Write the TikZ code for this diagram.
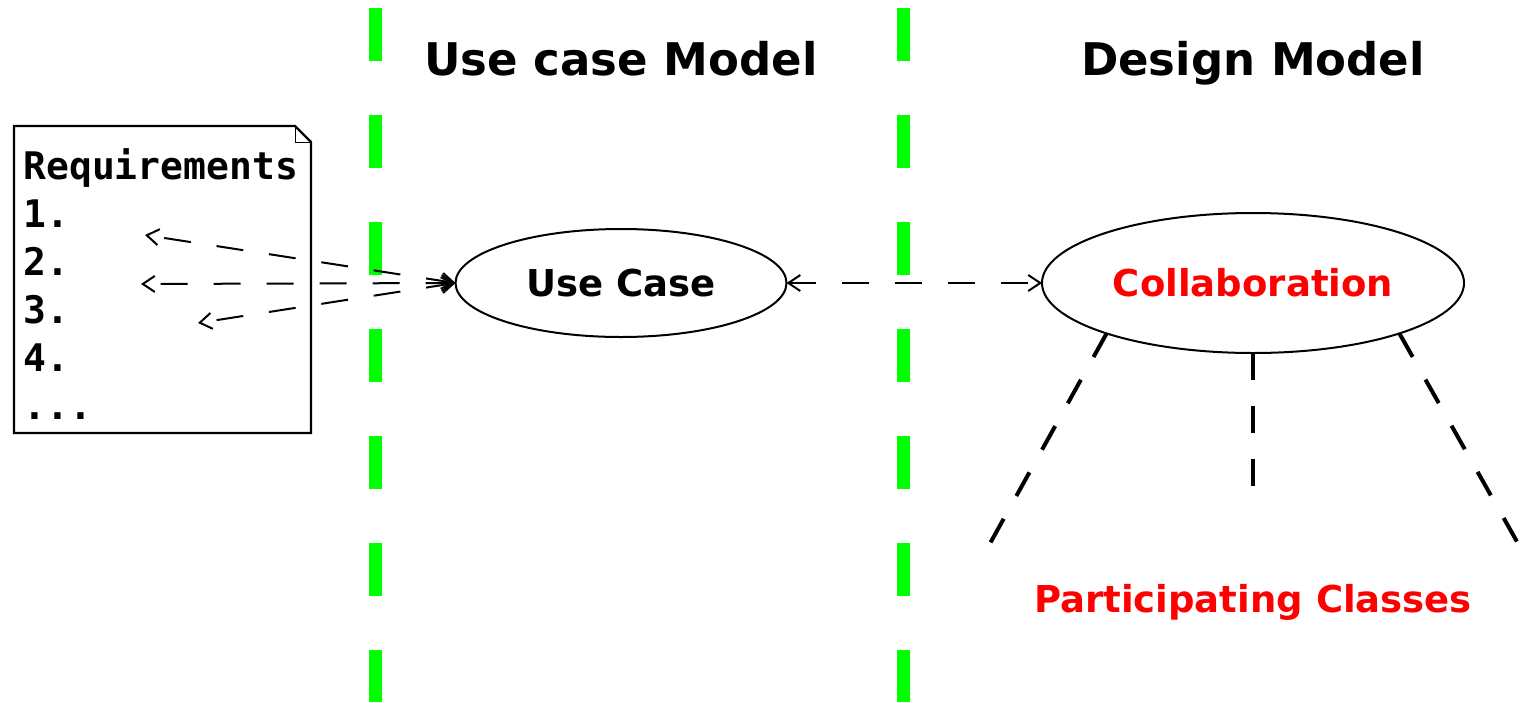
\documentclass[tikz,border=0pt]{standalone}
\usepackage{fontspec}
\setmainfont{DejaVu Sans}
\newfontfamily\reqfont{DejaVu Sans Mono}
\usepackage{tikz}
\usetikzlibrary{shapes}
\usetikzlibrary{arrows.meta}
\usetikzlibrary{positioning}
\definecolor{lanegreen}{RGB}{0,255,0}
\definecolor{collabred}{RGB}{255,0,0}

\begin{document}
\begin{tikzpicture}[
            x=0.5pt, y=-0.5pt,
            >={Straight Barb[length=6pt,width=8pt]},
            title/.style={font=\fontsize{22.5}{27}\selectfont\bfseries, anchor=base},
            usecase/.style={ellipse, draw=black, line width=1pt, inner sep=0pt, outer sep=0pt, font=\fontsize{18.5}{22}\selectfont\bfseries},
            lane/.style={draw=lanegreen, line width=6.5pt, dash pattern=on 26.5pt off 27pt},
            flow/.style={draw=black, line width=1pt, dash pattern=on 13.5pt off 13pt, <->},
            branch/.style={draw=black, line width=2pt, dash pattern=on 13.5pt off 13pt}
        ]
            \useasboundingbox (0,0) rectangle (1530,702);
            % lane separators
            \foreach \lx in {375,903}
                \path[lane] (\lx,8) -- (\lx,702);

            \node[title] (ucmodel) at (621,75) {Use case Model};
            \node[title] (dmodel) at (1253,75) {Design Model};

            % requirements sheet with a folded corner
            \node[minimum width=148.5pt, minimum height=153.5pt, inner sep=0pt, outer sep=0pt] (req) at (162.5,279.5) {};
            \draw[line width=1.2pt] (req.north west) -- ([xshift=-8pt]req.north east) -- ([yshift=-8pt]req.north east) -- (req.south east) -- (req.south west) -- cycle;
            \draw[line width=0.5pt] ([xshift=-8pt]req.north east) |- ([yshift=-8pt]req.north east);
            \node[anchor=north west, align=left, inner sep=0pt, font=\reqfont\bfseries\fontsize{19}{24}\selectfont] (reqtext) at (23,148) {Requirements\\1.\\2.\\3.\\4.\\...};

            \node[usecase, minimum width=165.5pt, minimum height=54pt] (ucase) at (621,283) {Use Case};
            \node[usecase, minimum width=211pt, minimum height=70pt, text=collabred] (collab) at (1253,283) {Collaboration};

            % traces back to the requirement lines
            \coordinate (r1) at (145,235);
            \coordinate (r2) at (141,284);
            \coordinate (r3) at (198,323);
            \path[flow] (ucase.west) -- (r1);
            \path[flow] (ucase.west) -- (r2);
            \path[flow] (ucase.west) -- (r3);
            \path[flow] (ucase.east) -- (collab.west);

            % participating classes below the collaboration
            \coordinate (p1) at (988,547);
            \coordinate (p2) at (1253,489);
            \coordinate (p3) at (1520,547);
            \path[branch] (collab.199) -- (p1);
            \path[branch] (collab.south) -- (p2);
            \path[branch] (collab.341) -- (p3);
            \node[font=\fontsize{18.5}{22}\selectfont\bfseries, text=collabred, anchor=base] (classes) at (1253,612) {Participating Classes};
        \end{tikzpicture}
\end{document}
